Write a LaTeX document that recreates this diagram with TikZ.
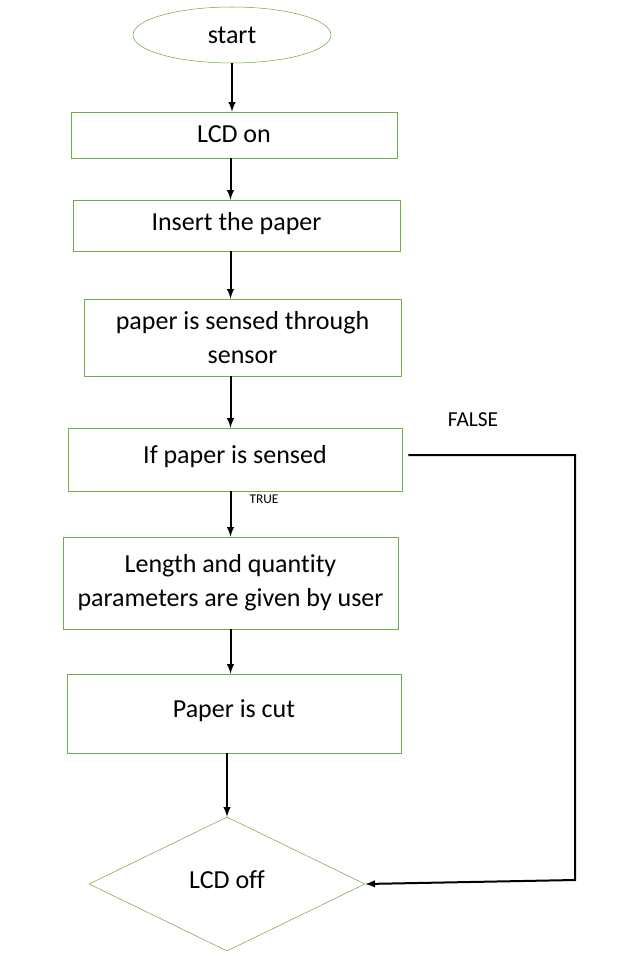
\documentclass[tikz,border=0pt]{standalone}
\usepackage{fontspec}
\setmainfont{Carlito}[Ligatures=NoCommon]
\usetikzlibrary{arrows}
\usetikzlibrary{shapes.geometric}

\definecolor{boxgreen}{RGB}{112,173,71}

\tikzset{
	stepbox/.style={draw=boxgreen, thin, align=center, inner sep=0pt,
		font=\fontsize{19.5}{25.5}\selectfont},
	lift/.style={text depth=#1},
	flow/.style={line width=1.5pt, ->, >=latex},
}

\begin{document}
\begin{tikzpicture}[x=0.75pt, y=-0.75pt]
	\useasboundingbox (0,0) rectangle (632,964);

	\node[stepbox, ellipse, minimum width=148.5pt, minimum height=42pt] at (232, 35) (start) {start};
	\node[stepbox, lift=0.15em, minimum width=244.5pt, minimum height=34.5pt] at (234, 135) (lcdon) {LCD on};
	\node[stepbox, lift=0.6em, minimum width=245.25pt, minimum height=38.25pt] at (236.5, 225.5) (insert) {Insert the paper};
	\node[stepbox, minimum width=237.75pt, minimum height=57.75pt] at (242.5, 337.5) (sense) {paper is sensed through\\sensor};
	\node[stepbox, lift=0.75em, minimum width=250.5pt, minimum height=47.25pt] at (235, 459.5) (check) {If paper is sensed};
	\node[stepbox, minimum width=251.25pt, minimum height=69pt] at (230.5, 583) (params) {Length and quantity\\parameters are given by user};
	\node[stepbox, lift=0.8em, minimum width=250.5pt, minimum height=59.25pt] at (234, 713.5) (cut) {Paper is cut};
	\node[stepbox, diamond, lift=0.7em, minimum width=207pt, minimum height=100.5pt] at (227, 884) (off) {LCD off};

	\node[font=\fontsize{16}{19}\selectfont] at (473, 420) (false) {FALSE};
	\node[font=\fontsize{10}{12}\selectfont] at (264, 499) (true) {TRUE};

	\coordinate (ftop) at (575, 455);
	\coordinate (fbot) at (575, 880);

	\draw[flow] (start.south) -- (start.south |- lcdon.north);
	\draw[flow] (params.north |- lcdon.south) -- (params.north |- insert.north);
	\draw[flow] (params.north |- insert.south) -- (params.north |- sense.north);
	\draw[flow] (params.north |- sense.south) -- (params.north |- check.north);
	\draw[flow] (params.north |- check.south) -- (params.north);
	\draw[flow] (params.south) -- (params.south |- cut.north);
	\draw[flow] (off.north |- cut.south) -- (off.north);

	\draw[flow, shorten <=4.5pt] (check.east |- ftop) -- (ftop) -- (fbot) -- (off.east);
\end{tikzpicture}
\end{document}
